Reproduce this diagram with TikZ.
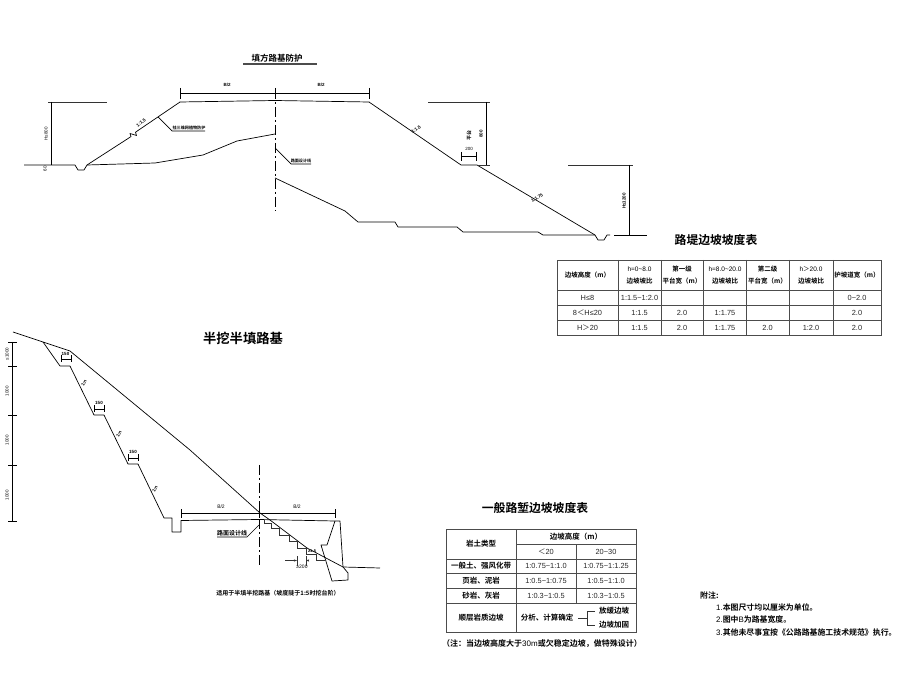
\documentclass[tikz,border=0pt]{standalone}
\usepackage{fontspec}
\usetikzlibrary{arrows.meta}
\setmainfont{Liberation Sans}
\newfontfamily\cjk{Noto Sans CJK SC}[BoldFont={Noto Sans CJK SC Bold}]
\newfontfamily\nokern{Liberation Sans}[Kerning=Off]
\tikzset{
  geo/.style={draw=black,line width=0.7pt,line join=round},
  thin geo/.style={draw=black!80,line width=0.55pt},
  axisline/.style={draw=black,line width=0.55pt,dash pattern=on 10pt off 3pt on 2pt off 3pt},
  dimline/.style={draw=black,line width=0.7pt},
  grid/.style={draw=black!70,line width=0.7pt},
  lbl/.style={inner sep=0pt,font=\cjk\bfseries\fontsize{5}{5}\selectfont},
  tiny lbl/.style={inner sep=0pt,font=\cjk\bfseries\fontsize{4.1}{5}\selectfont},
  slope/.style={inner sep=0pt,font=\nokern\bfseries\fontsize{4.6}{5}\selectfont},
  num/.style={inner sep=0pt,font=\fontsize{4.5}{5}\selectfont},
  title/.style={inner sep=0pt,font=\cjk\bfseries\fontsize{11.8}{14}\selectfont},
  th/.style={inner sep=0pt,align=center,font=\cjk\bfseries\fontsize{6.5}{12}\selectfont},
  tc/.style={inner sep=0pt,font=\fontsize{7.4}{8}\selectfont,text=black!85},
  rowh/.style={inner sep=0pt,font=\cjk\bfseries\fontsize{7.5}{9}\selectfont},
  note/.style={inner sep=0pt,anchor=west,font=\cjk\bfseries\fontsize{7.9}{9}\selectfont},
}
\begin{document}
\begin{tikzpicture}[x=1pt,y=-1pt]
\useasboundingbox (0,0) rectangle (900,700);
% ---- embankment section
\node[title,font=\cjk\bfseries\fontsize{8.5}{10}\selectfont] (t1) at (277,58) {填方路基防护};
\draw[line width=1.2pt,black!70] (243,64) -- (317,64);
\coordinate (crestL) at (180,102);
\coordinate (crestC) at (275,100.5);
\coordinate (crestR) at (369,102);
\draw[geo] (crestL) -- (crestC) -- (crestR);
\draw[geo] (crestL) -- (135.5,132.2) -- (136.5,135.5) -- (130,133.5) -- (131,136.6) -- (87,165);
\draw[geo] (24,165) -- (75,165) -- (78,170) -- (84,170) -- (87,165) -- (155,163) -- (203,155) -- (237,141) -- (275,134);
\draw[axisline] (275,89) -- (275,211);
\draw[dimline] (180,93) -- (369,93);
\foreach \x in {180,275,369} \draw[dimline] (\x,88) -- (\x,99);
\node[num,font=\bfseries\fontsize{4.5}{5}\selectfont] (b1) at (227,85) {B/2};
\node[num,font=\bfseries\fontsize{4.5}{5}\selectfont] (b2) at (321,85) {B/2};
\draw[thin geo] (48,102) -- (107,102);
\draw[dimline] (51,102) -- (51,165);
\node[num,rotate=90] (h1) at (46,134) {H≤800};
\node[num,rotate=90] (h0) at (45,169) {60};
\node[slope,rotate=37] (s1) at (141,123) {1:1.5};
\draw[geo] (158,117) -- (172,131) -- (205,131);
\node[tiny lbl,anchor=south] (l1) at (189,130.5) {挂三维网植物防护};
\draw[geo] (275,148) -- (291,164) -- (311,164);
\node[tiny lbl,anchor=south] (l2) at (301,163.5) {路面设计线};
\draw[geo] (275,178) -- (345,211) -- (358,222) -- (395,222) -- (398,227) -- (457,227) -- (463,232) -- (538,232) -- (543,235) -- (595,235);
\draw[geo] (369,102) -- (461,165) -- (477,165) -- (595,235) -- (598,240) -- (604,240) -- (607,235) -- (610,235);
\draw[geo] (614,235) -- (647,235);
\draw[thin geo] (428,102) -- (490,102);
\draw[dimline] (486,102) -- (486,165);
\draw[thin geo] (477,165) -- (490,165);
\node[num,rotate=90,font=\bfseries\fontsize{4.5}{5}\selectfont] (h2) at (481,134) {800};
\node[lbl,rotate=90] (pt) at (469,136) {平台};
\node[num] (w1) at (469,149) {200};
\draw[dimline] (461,156) -- (476,156);
\foreach \x in {461,476} \draw[dimline] (\x,152) -- (\x,161);
\node[slope,rotate=35] (s2) at (416,129.5) {1:1.5};
\node[slope,rotate=32] (s3) at (537,198) {1:1.75};
\draw[thin geo] (568,165) -- (633,165);
\draw[dimline] (629,165) -- (629,235);
\node[num,rotate=90,font=\bfseries\fontsize{4.5}{5}\selectfont] (h3) at (624,201) {H≤1200};
% ---- embankment table
\node[title] (t2) at (716,240) {路堤边坡坡度表};
\draw[grid] (557,260) rectangle (881,335);
\foreach \y in {290,305,320} \draw[grid] (557,\y) -- (881,\y);
\foreach \x in {618,661,703,746,789,833} \draw[grid] (\x,260) -- (\x,335);
\node[th] (a1) at (587.5,275) {边坡高度（m）};
\node[th] (a2) at (639.5,275) {\normalfont\fontsize{6.5}{12}\selectfont\rmfamily h=0\textasciitilde 8.0\\\cjk\bfseries 边坡坡比};
\node[th] (a3) at (682,275) {第一级\\平台宽（m）};
\node[th] (a4) at (725,275) {\normalfont\fontsize{6.5}{12}\selectfont\rmfamily h=8.0\textasciitilde 20.0\\\cjk\bfseries 边坡坡比};
\node[th] (a5) at (767.5,275) {第二级\\平台宽（m）};
\node[th] (a6) at (811,275) {\normalfont\fontsize{6.5}{12}\selectfont\rmfamily h{\cjk ＞}20.0\\\cjk\bfseries 边坡坡比};
\node[th] (a7) at (857,275) {护坡道宽（m）};
\node[tc] (r11) at (587.5,297.5) {H≤8};
\node[tc] (r12) at (639.5,297.5) {1:1.5\textasciitilde 1:2.0};
\node[tc] (r17) at (857,297.5) {0\textasciitilde 2.0};
\node[tc] (r21) at (587.5,312.5) {8{\cjk ＜}H≤20};
\node[tc] (r22) at (639.5,312.5) {1:1.5};
\node[tc] (r23) at (682,312.5) {2.0};
\node[tc] (r24) at (725,312.5) {1:1.75};
\node[tc] (r27) at (857,312.5) {2.0};
\node[tc] (r31) at (587.5,327.5) {H{\cjk ＞}20};
\node[tc] (r32) at (639.5,327.5) {1:1.5};
\node[tc] (r33) at (682,327.5) {2.0};
\node[tc] (r34) at (725,327.5) {1:1.75};
\node[tc] (r35) at (767.5,327.5) {2.0};
\node[tc] (r36) at (811,327.5) {1:2.0};
\node[tc] (r37) at (857,327.5) {2.0};
% ---- half cut half fill
\node[title,font=\cjk\bfseries\fontsize{13.3}{14}\selectfont] (t3) at (243,338) {半挖半填路基};
\draw[geo] (13,332) -- (43,342) -- (70,351) -- (190,450) -- (260,513) -- (270,520) -- (307,548) -- (343,567) -- (380,568);
\draw[geo] (43,342) -- (60,366) -- (70,366) -- (94,415) -- (104,415) -- (128,464) -- (138,464) -- (164,518) -- (172,518) -- (172,532) -- (181,532) -- (181,520.5) -- (259,519.5) -- (335,521) -- (340,521) -- (343,567) -- (348,573) -- (348,580) -- (332,581) -- (321,545) -- (327,545) -- (335,521);
\draw[thin geo] (264,520) -- (264,523) -- (271,523) -- (271,528) -- (279,528) -- (279,535) -- (289,535) -- (289,541) -- (297,541) -- (297,548) -- (306,548) -- (306,554) -- (316,554) -- (316,560) -- (325,560);
\draw[axisline] (259,465) -- (259,565);
\draw[dimline] (181,513) -- (335,513);
\foreach \x in {181,259,335} \draw[dimline] (\x,509) -- (\x,518);
\node[num,font=\fontsize{5}{5}\selectfont] (b3) at (221,507) {B/2};
\node[num,font=\fontsize{5}{5}\selectfont] (b4) at (297,507) {B/2};
\draw[geo] (259,525) -- (247,537) -- (217,537);
\node[lbl,anchor=south,font=\cjk\bfseries\fontsize{6}{6}\selectfont] (l3) at (232,536.5) {路面设计线};
\node[num,font=\fontsize{5}{5}\selectfont] (ge) at (302,567) {≥200};
\draw[thin geo,-{Stealth[length=3pt,width=2pt]}] (285,560.5) -- (297,560.5);
\draw[thin geo,-{Stealth[length=3pt,width=2pt]}] (309,560.5) -- (306,560.5);
\foreach \x in {297,306} \draw[thin geo] (\x,556) -- (\x,566);
\node[lbl,font=\bfseries\fontsize{4}{4}\selectfont] (l5) at (312,551) {≥1:5};
\node[lbl,font=\cjk\bfseries\fontsize{6}{7}\selectfont] (cap) at (278,593) {适用于半填半挖路基（坡度陡于1:5时挖台阶）};
\draw[dimline,line width=0.55pt] (12,342) -- (12,521);
\foreach \y in {342,366,415,465,521} \draw[dimline] (8,\y) -- (17,\y);
\node[num,rotate=90] (v1) at (7,354) {≤1000};
\node[num,rotate=90] (v2) at (7,391) {1000};
\node[num,rotate=90] (v3) at (7,440) {1000};
\node[num,rotate=90] (v4) at (7,495) {1000};
\foreach \a/\b/\c in {61/71/359,94.5/104.5/409,128.5/138.5/458}{
  \draw[dimline] (\a,\c) -- (\b,\c);
  \draw[dimline] (\a,\c-3.5) -- (\a,\c+3.5);
  \draw[dimline] (\b,\c-3.5) -- (\b,\c+3.5);
}
\node[num,font=\bfseries\fontsize{4.5}{5}\selectfont] (w2) at (65.5,354) {150};
\node[num,font=\bfseries\fontsize{4.5}{5}\selectfont] (w3) at (99,403) {150};
\node[num,font=\bfseries\fontsize{4.5}{5}\selectfont] (w4) at (133,452) {150};
\node[slope,rotate=63] (s4) at (84,383) {1:n};
\node[slope,rotate=63] (s5) at (119,434) {1:n};
\node[slope,rotate=63] (s6) at (155,489) {1:n};
% ---- cut table
\node[title] (t4) at (535,508) {一般路堑边坡坡度表};
\draw[grid] (446,529) rectangle (636,632);
\foreach \y in {559,573,588,603} \draw[grid] (446,\y) -- (636,\y);
\draw[grid] (516,544) -- (636,544);
\draw[grid] (516,529) -- (516,632);
\draw[grid] (576,544) -- (576,603);
\node[rowh] (c0) at (481,544) {岩土类型};
\node[rowh] (c1) at (576,536.5) {边坡高度（m）};
\node[tc] (c2) at (546,551.5) {{\cjk ＜}20};
\node[tc] (c3) at (606,551.5) {20\textasciitilde 30};
\node[rowh] (d1) at (481,566) {一般土、强风化带};
\node[tc] (d2) at (546,566) {1:0.75\textasciitilde 1:1.0};
\node[tc] (d3) at (606,566) {1:0.75\textasciitilde 1:1.25};
\node[rowh] (e1) at (481,580.5) {页岩、泥岩};
\node[tc] (e2) at (546,580.5) {1:0.5\textasciitilde 1:0.75};
\node[tc] (e3) at (606,580.5) {1:0.5\textasciitilde 1:1.0};
\node[rowh] (f1) at (481,595.5) {砂岩、灰岩};
\node[tc] (f2) at (546,595.5) {1:0.3\textasciitilde 1:0.5};
\node[tc] (f3) at (606,595.5) {1:0.3\textasciitilde 1:0.5};
\node[rowh] (g1) at (481,618) {顺层岩质边坡};
\node[rowh] (g2) at (547,618) {分析、计算确定};
\node[rowh] (g3) at (614,611) {放缓边坡};
\node[rowh] (g4) at (614,625) {边坡加固};
\draw[thin geo] (578,618) -- (587,618);
\draw[thin geo] (595,611) -- (587,611) -- (587,625) -- (595,625);
\node[rowh,font=\cjk\bfseries\fontsize{8}{9}\selectfont] (n0) at (542,644) {（注：当边坡高度大于{\normalfont\rmfamily 30m}或欠稳定边坡，做特殊设计）};
% ---- notes
\node[note] (n1) at (700,595) {附注:};
\node[note] (n2) at (716,607) {{\normalfont\rmfamily 1.}本图尺寸均以厘米为单位。};
\node[note] (n3) at (716,619) {{\normalfont\rmfamily 2.}图中{\normalfont\rmfamily B}为路基宽度。};
\node[note] (n4) at (716,632) {{\normalfont\rmfamily 3.}其他未尽事宜按《公路路基施工技术规范》执行。};
\end{tikzpicture}
\end{document}
